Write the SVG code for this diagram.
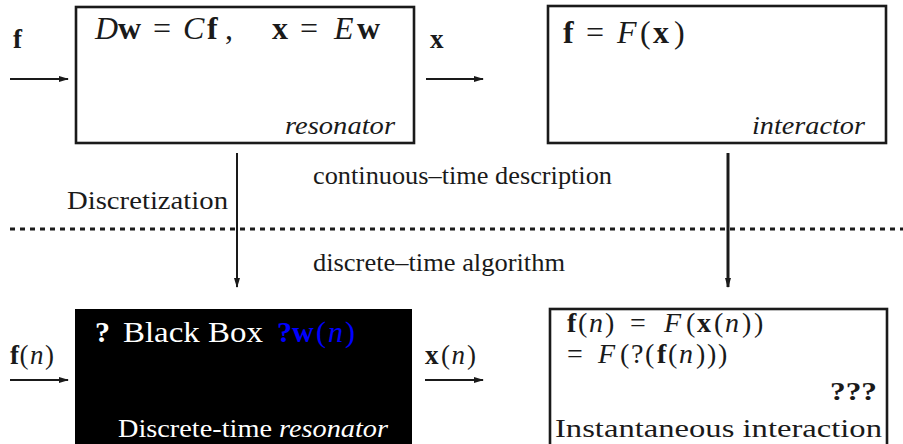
<svg xmlns="http://www.w3.org/2000/svg" width="903" height="444" viewBox="0 0 903 444" font-family="'Liberation Serif','Times New Roman',serif">
<defs>
<marker id="ah" markerWidth="10" markerHeight="8" refX="9" refY="4" orient="auto" markerUnits="userSpaceOnUse">
<path d="M0,1 L10,4 L0,7 z" fill="#1a1a1a"/>
</marker>
</defs>
<style>
text{font-family:"Liberation Serif","Times New Roman",serif;fill:#1a1a1a}
.it{font-style:italic}
.bf{font-weight:bold}
.mm{font-size:32px}
.mb{font-size:28px}
.sm{font-size:27px}
.lab{font-size:25px}
.box{fill:#fff;stroke:#1a1a1a;stroke-width:2.6}
.conn line{stroke:#1a1a1a;stroke-width:2}
.w{fill:#fff}
.b{fill:#0000ff}
</style>
<rect width="903" height="444" fill="#fff"/>

<g class="conn">
<line x1="10" y1="79" x2="68" y2="79" marker-end="url(#ah)"/>
<line x1="426" y1="79" x2="483" y2="79" marker-end="url(#ah)"/>
<line x1="10" y1="380" x2="68" y2="380" marker-end="url(#ah)"/>
<line x1="425" y1="380" x2="483" y2="380" marker-end="url(#ah)"/>
<line x1="237" y1="153" x2="237" y2="287" marker-end="url(#ah)"/>
<line x1="728" y1="153" x2="728" y2="287" style="stroke-width:3" marker-end="url(#ah)"/>
<line x1="10" y1="229" x2="903" y2="229" style="stroke-width:3;stroke-dasharray:5 5"/>
</g>

<g id="label-f"><text x="13" y="48" class="sm bf">f</text></g>
<g id="label-x"><text x="430" y="48" class="sm bf">x</text></g>
<g id="label-fn"><text y="364" class="sm"><tspan x="10" class="bf">f</tspan><tspan x="19.5">(</tspan><tspan x="30" class="it">n</tspan><tspan x="45">)</tspan></text></g>
<g id="label-xn"><text y="364" class="sm"><tspan x="425" class="bf">x</tspan><tspan x="441">(</tspan><tspan x="451.5" class="it">n</tspan><tspan x="467">)</tspan></text></g>

<g id="resonator">
<rect x="76" y="7" width="338" height="136" class="box"/>
<text y="39" class="mm"><tspan x="95" class="it">D</tspan><tspan x="118" class="bf">w</tspan><tspan x="153">=</tspan><tspan x="183" class="it">C</tspan><tspan x="207" class="bf">f</tspan><tspan x="225">,</tspan><tspan x="272" class="bf">x</tspan><tspan x="300">=</tspan><tspan x="334" class="it">E</tspan><tspan x="357" class="bf">w</tspan></text>
<text x="285" y="134" class="lab it" textLength="110" lengthAdjust="spacingAndGlyphs">resonator</text>
</g>

<g id="interactor">
<rect x="548" y="6" width="338" height="137" class="box"/>
<text y="43" class="mm"><tspan x="563" class="bf">f</tspan><tspan x="586">=</tspan><tspan x="617" class="it">F</tspan><tspan x="640">(</tspan><tspan x="653" class="bf">x</tspan><tspan x="674">)</tspan></text>
<text x="752" y="134" class="lab it" textLength="113" lengthAdjust="spacingAndGlyphs">interactor</text>
</g>

<g id="discretization">
<text x="67" y="209" class="lab" textLength="161" lengthAdjust="spacingAndGlyphs">Discretization</text>
</g>
<g id="continuous">
<text x="313" y="184" class="lab" textLength="299" lengthAdjust="spacingAndGlyphs">continuous–time description</text>
</g>
<g id="discrete">
<text x="313" y="271" class="lab" textLength="252" lengthAdjust="spacingAndGlyphs">discrete–time algorithm</text>
</g>

<g id="black-box">
<rect x="75" y="309" width="337" height="140" fill="#000"/>
<text x="95" y="342" class="w bf" style="font-size:30px">?</text>
<text x="123" y="342" class="w" style="font-size:30px" textLength="140" lengthAdjust="spacingAndGlyphs">Black Box</text>
<text y="342" class="b" style="font-size:30px"><tspan x="277" class="bf">?</tspan><tspan x="292" class="bf">w</tspan><tspan x="316">(</tspan><tspan x="328" class="it">n</tspan><tspan x="345">)</tspan></text>
<text x="118" y="437" class="w lab" textLength="270" lengthAdjust="spacingAndGlyphs">Discrete-time <tspan class="it">resonator</tspan></text>
</g>

<g id="instantaneous">
<rect x="550" y="309" width="337" height="145" class="box"/>
<text y="332" class="mb"><tspan x="567" class="bf">f</tspan><tspan x="578">(</tspan><tspan x="589" class="it">n</tspan><tspan x="605">)</tspan><tspan x="630">=</tspan><tspan x="664" class="it">F</tspan><tspan x="686">(</tspan><tspan x="697" class="bf">x</tspan><tspan x="714">(</tspan><tspan x="725" class="it">n</tspan><tspan x="742">)</tspan><tspan x="754">)</tspan></text>
<text y="363" class="mb"><tspan x="567">=</tspan><tspan x="598" class="it">F</tspan><tspan x="620">(</tspan><tspan x="631">?</tspan><tspan x="645">(</tspan><tspan x="657" class="bf">f</tspan><tspan x="668">(</tspan><tspan x="679" class="it">n</tspan><tspan x="696">)</tspan><tspan x="707">)</tspan><tspan x="718">)</tspan></text>
<text x="830" y="400" class="lab bf" textLength="47" lengthAdjust="spacingAndGlyphs">???</text>
<text x="555" y="437" class="lab" textLength="327" lengthAdjust="spacingAndGlyphs">Instantaneous interaction</text>
</g>
</svg>
